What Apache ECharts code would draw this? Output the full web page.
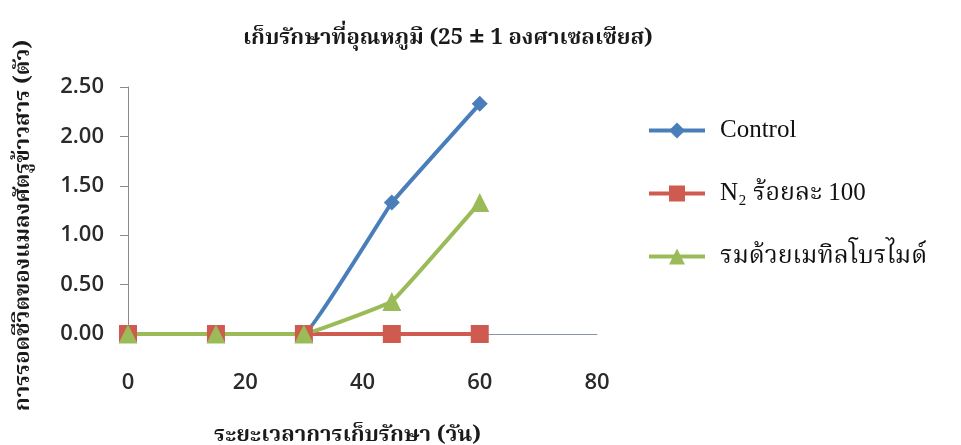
<!DOCTYPE html>
<html>
<head>
<meta charset="utf-8">
<script src="https://cdn.jsdelivr.net/npm/echarts@6/dist/echarts.min.js"></script>
<style>
  html, body { margin: 0; padding: 0; background: #ffffff; }
  #chart { width: 961px; height: 445px; }
</style>
</head>
<body>
<div id="chart"></div>
<script>
// Storage time (days)
const days = [0, 15, 30, 45, 60];
// Surviving rice weevils (insects)
const controlValues = [0, 0, 0, 1.33, 2.33];
const nitrogenValues = [0, 0, 0, 0, 0];
const methylBromideValues = [0, 0, 0, 0.33, 1.33];

const seriesNames = ['Control', 'N\u2082 ร้อยละ 100', 'รมด้วยเมทิลโบรไมด์'];
const seriesColors = ['#4a7ebb', '#cf5a50', '#9bbb59'];
const seriesSymbols = ['diamond', 'rect', 'triangle'];
const symbolSizes = [16, 18, 19];

const titleText = 'เก็บรักษาที่อุณหภูมิ (25 ± 1 องศาเซลเซียส)';
const yTitle = 'การรอดชีวิตของแมลงศัตรูข้าวสาร (ตัว)';
const xTitle = 'ระยะเวลาการเก็บรักษา (วัน)';

const thaiFont = '"Noto Serif Thai", "Noto Sans Thai", "Loma", "Garuda", "Tlwg Typo", serif';
const tickFont = '"Open Sans", "Liberation Sans", sans-serif';

const allValues = [controlValues, nitrogenValues, methylBromideValues];

const chart = echarts.init(document.getElementById('chart'));
chart.setOption({
  backgroundColor: '#ffffff',
  animation: false,
  title: {
    text: titleText,
    left: 443, top: 24, textAlign: 'center',
    textStyle: { fontFamily: thaiFont, fontSize: 22, fontWeight: 'bold', color: '#1a1a1a' }
  },
  legend: {
    orient: 'vertical',
    left: 642, top: 113,
    itemGap: 38,
    itemWidth: 56, itemHeight: 20,
    lineStyle: { width: 4 },
    textStyle: { fontFamily: '"Liberation Serif", "Times New Roman", ' + thaiFont, fontSize: 25, color: '#111', padding: [0, 0, 0, 10] },
    data: seriesNames
  },
  grid: { left: 128, right: 364, top: 87, bottom: 111, outerBoundsMode: 'none' },
  xAxis: {
    type: 'value', min: 0, max: 80, interval: 20,
    name: xTitle, nameLocation: 'middle', nameGap: 92,
    nameTextStyle: { fontFamily: thaiFont, fontSize: 22, fontWeight: 'bold', color: '#1a1a1a', padding: [0, 0, 0, -30] },
    axisLine: { lineStyle: { color: '#8a95a8', width: 1 } },
    axisTick: { show: false },
    splitLine: { show: false },
    axisLabel: { fontFamily: tickFont, fontSize: 22, fontWeight: 600, color: '#2a2a2a', margin: 38 }
  },
  yAxis: {
    type: 'value', min: 0, max: 2.5, interval: 0.5,
    name: yTitle, nameLocation: 'middle', nameGap: 92, nameRotate: 90,
    nameTextStyle: { fontFamily: thaiFont, fontSize: 22, fontWeight: 'bold', color: '#1a1a1a', padding: [0, 0, 0, -30] },
    axisLine: { show: true, lineStyle: { color: '#8a8a8a', width: 1 } },
    axisTick: { show: true, length: 8, lineStyle: { color: '#8a8a8a' } },
    splitLine: { show: false },
    axisLabel: { fontFamily: tickFont, fontSize: 22, fontWeight: 600, color: '#2a2a2a', margin: 24,
                 formatter: v => v.toFixed(2) }
  },
  series: seriesNames.map((name, i) => ({
    name: name,
    type: 'line',
    smooth: 0.06,
    data: days.map((d, k) => [d, allValues[i][k]]),
    symbol: seriesSymbols[i],
    symbolSize: symbolSizes[i],
    showAllSymbol: true,
    lineStyle: { color: seriesColors[i], width: 4 },
    itemStyle: { color: seriesColors[i] }
  }))
});
</script>
</body>
</html>
